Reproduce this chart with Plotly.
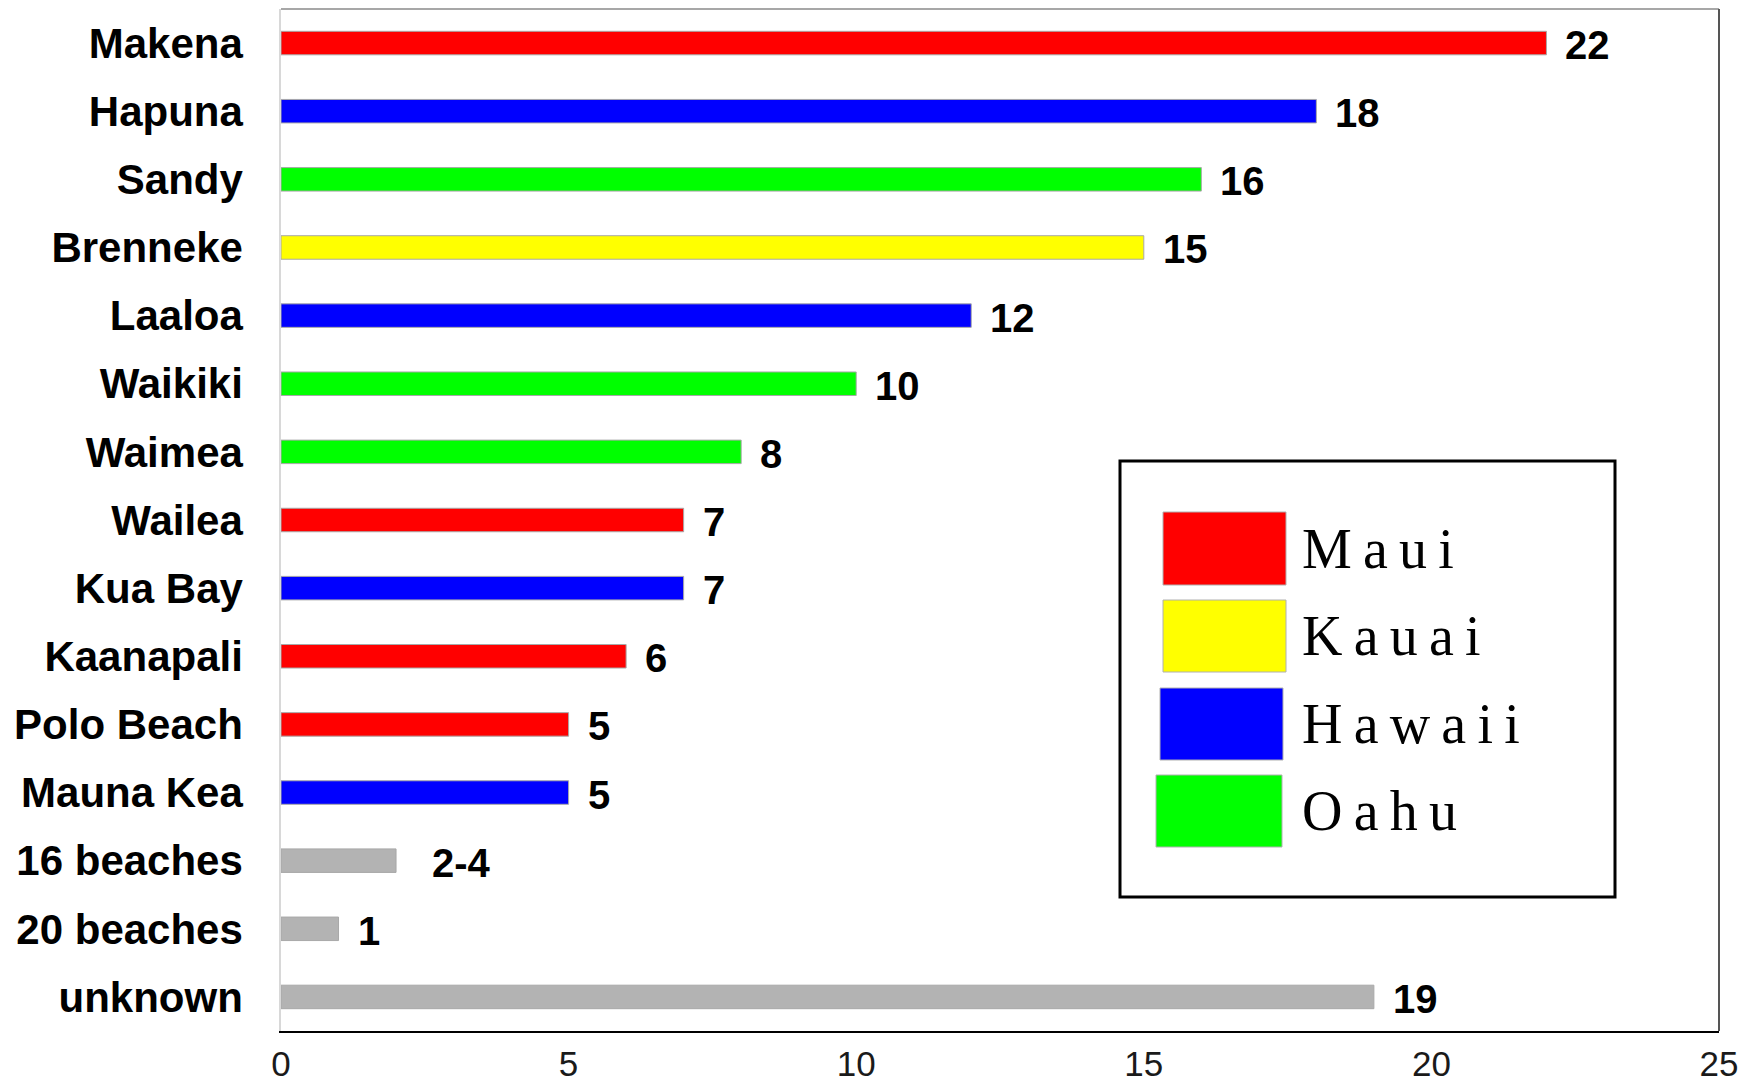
import plotly.graph_objects as go

beaches = ["Makena", "Hapuna", "Sandy", "Brenneke", "Laaloa", "Waikiki", "Waimea",
           "Wailea", "Kua Bay", "Kaanapali", "Polo Beach", "Mauna Kea",
           "16 beaches", "20 beaches", "unknown"]
counts = [22, 18, 16, 15, 12, 10, 8, 7, 7, 6, 5, 5, 2, 1, 19]
value_labels = ["22", "18", "16", "15", "12", "10", "8", "7", "7", "6", "5", "5", "2-4", "1", "19"]
islands = ["Maui", "Hawaii", "Oahu", "Kauai", "Hawaii", "Oahu", "Oahu",
           "Maui", "Hawaii", "Maui", "Maui", "Hawaii", "other", "other", "other"]
legend_islands = ["Maui", "Kauai", "Hawaii", "Oahu"]
island_colors = {"Maui": "#ff0000", "Kauai": "#ffff00", "Hawaii": "#0000ff",
                 "Oahu": "#00ff00", "other": "#b3b3b3"}
x_ticks = [0, 5, 10, 15, 20, 25]

W, H = 1745, 1085
L, R, T, B = 281, 1719, 9, 1031

fig = go.Figure()
fig.add_trace(go.Bar(
    y=beaches, x=counts, orientation="h", width=0.345,
    marker=dict(color=[island_colors[i] for i in islands],
                line=dict(color="#a8a8a8", width=1)),
    showlegend=False, hoverinfo="x+y",
))

annotations = []
for b, v, lab in zip(beaches, counts, value_labels):
    annotations.append(dict(
        x=v, y=b, xref="x", yref="y", text=lab, showarrow=False,
        xanchor="left", yanchor="middle", xshift=34 if "-" in lab else 17, yshift=-2,
        font=dict(family="Liberation Sans, Arial", size=40, color="#000000", weight="bold"),
    ))

def px(xp):
    return (xp - L) / (R - L)

def py(yp):
    return 1 - (yp - T) / (B - T)

shapes = [
    dict(type="line", xref="paper", yref="paper", x0=0, x1=1, y0=1, y1=1,
         line=dict(color="#8a8a8a", width=1.5)),
    dict(type="line", xref="paper", yref="paper", x0=1, x1=1, y0=0, y1=1,
         line=dict(color="#555555", width=2)),
    # legend box
    dict(type="rect", xref="paper", yref="paper", x0=px(1120), x1=px(1615),
         y0=py(897), y1=py(461), line=dict(color="#000000", width=3),
         fillcolor="#ffffff", layer="above"),
]

sw = [(1163, 1286, 512, 585), (1163, 1286, 600, 672),
      (1160, 1283, 688, 760), (1156, 1282, 775, 847)]
for name, (x0, x1, y0, y1) in zip(legend_islands, sw):
    shapes.append(dict(type="rect", xref="paper", yref="paper",
                       x0=px(x0), x1=px(x1), y0=py(y1), y1=py(y0),
                       fillcolor=island_colors[name],
                       line=dict(color="#b0b0b0", width=1), layer="above"))
    annotations.append(dict(
        x=px(1300), y=py((y0 + y1) / 2), xref="paper", yref="paper",
        text="\u2009".join(name), showarrow=False, xanchor="left", yanchor="middle",
        font=dict(family="Liberation Serif, Times New Roman", size=56, color="#000000"),
    ))

fig.update_layout(
    width=W, height=H,
    margin=dict(l=L, r=W - R, t=T, b=H - B, pad=0, autoexpand=False),
    plot_bgcolor="#ffffff", paper_bgcolor="#ffffff",
    xaxis=dict(range=[0, 25], tickvals=x_ticks, ticktext=[str(t) for t in x_ticks],
               showgrid=False, zeroline=False, showline=True, linecolor="#000000",
               linewidth=2, ticks="", ticklabelstandoff=1, automargin=False,
               tickfont=dict(family="Liberation Sans, Arial", size=35, color="#1a1a1a")),
    yaxis=dict(autorange="reversed", showgrid=False, zeroline=False, showline=True,
               linecolor="#d8d8d8", linewidth=1.5, ticks="", ticklabelstandoff=28,
               automargin=False,
               tickfont=dict(family="Liberation Sans, Arial", size=42, color="#000000",
                             weight="bold")),
    shapes=shapes,
    annotations=annotations,
    font=dict(family="Liberation Sans, Arial"),
)

fig.write_html("out.html", config={"displayModeBar": False},
               post_script="document.body.style.margin='0';document.body.style.overflow='hidden';")
